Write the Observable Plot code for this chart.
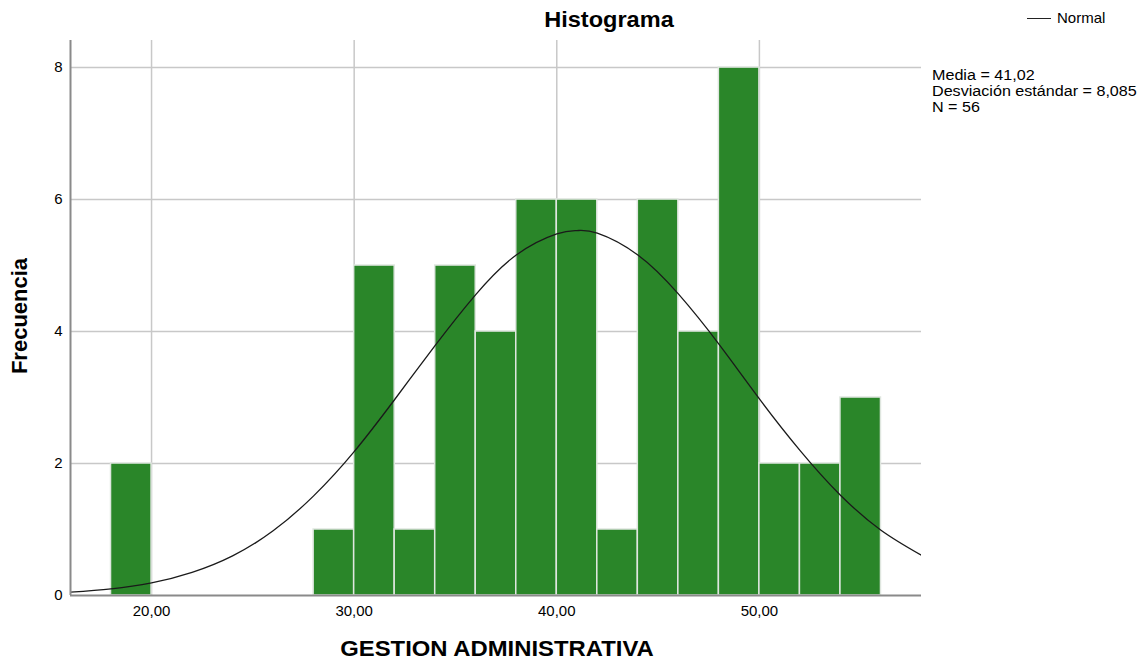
<!DOCTYPE html>
<html>
<head>
<meta charset="utf-8">
<script src="https://cdn.jsdelivr.net/npm/d3@7"></script>
<script src="https://cdn.jsdelivr.net/npm/@observablehq/plot@0.6"></script>
<style>
  html, body { margin: 0; padding: 0; background: #fff; }
  #wrap { position: relative; width: 1145px; height: 661px; font-family: "Liberation Sans", Arial, sans-serif; overflow: hidden; }
  .abs { position: absolute; white-space: nowrap; color: #000; }
</style>
</head>
<body>
<div id="wrap">
  <div class="abs" style="left:0;width:1218px;top:7px;text-align:center;font-size:22px;line-height:26px;font-weight:bold;transform:scaleX(1.07);transform-origin:609px 0;">Histograma</div>
  <div class="abs" style="left:1027px;top:9px;font-size:15px;line-height:18px;display:flex;align-items:center;">
    <span style="display:inline-block;width:24px;height:0;border-top:1.3px solid #222;margin-right:6px;"></span>Normal
  </div>
  <div class="abs" style="left:932px;top:67px;font-size:15.5px;line-height:16px;transform:scaleX(1.04);transform-origin:0 0;">Media = 41,02<br>Desviación estándar = 8,085<br>N = 56</div>
  <div class="abs" style="left:0;width:994px;top:636px;text-align:center;font-size:22.5px;line-height:26px;font-weight:bold;transform:scaleX(1.06);transform-origin:497px 0;">GESTION ADMINISTRATIVA</div>
  <div class="abs" style="left:20px;top:316px;transform:translate(-50%,-50%) rotate(-90deg);font-size:22px;line-height:26px;font-weight:bold;">Frecuencia</div>
</div>
<script>
// Histogram bins (lower edge) and frequencies
const binStarts = [18, 28, 30, 32, 34, 36, 38, 40, 42, 44, 46, 48, 50, 52, 54];
const counts    = [2,  1,  5,  1,  5,  4,  6,  6,  1,  6,  4,  8,  2,  2,  3];
const binWidth = 2;

// Normal curve
const curveX = [16, 18, 20, 22, 24, 26, 28, 30, 32, 34, 36, 38, 40, 41, 42, 44, 46, 48, 50, 52, 54, 56, 58];
const curveY = [0.05, 0.10, 0.19, 0.35, 0.60, 0.98, 1.51, 2.18, 2.97, 3.79, 4.56, 5.16, 5.48, 5.53, 5.49, 5.16, 4.57, 3.81, 2.98, 2.20, 1.52, 0.99, 0.61];

const xTicks = [20, 30, 40, 50];
const yTicks = [0, 2, 4, 6, 8];

const bars = binStarts.map((s, i) => ({x1: s, x2: s + binWidth, y: counts[i]}));
const curve = curveX.map((x, i) => ({x, y: curveY[i]}));

const fmt = d => d.toFixed(2).replace(".", ",");

const chart = Plot.plot({
  width: 1145,
  height: 661,
  marginLeft: 70,
  marginRight: 224,
  marginTop: 40,
  marginBottom: 66,
  style: {fontFamily: "Liberation Sans, Arial, sans-serif", fontSize: "15px", color: "#000", background: "transparent"},
  x: {domain: [16, 58], ticks: xTicks, tickFormat: fmt, tickSize: 0, tickPadding: 10, label: null},
  y: {domain: [0, 8.41], ticks: yTicks, tickSize: 0, tickPadding: 8, label: null},
  marks: [
    Plot.ruleX(xTicks, {stroke: "#c8c8c8", strokeWidth: 1.5}),
    Plot.ruleY(yTicks.filter(d => d > 0), {stroke: "#c8c8c8", strokeWidth: 1.5}),
    Plot.rectY(bars, {x1: "x1", x2: "x2", y: "y", fill: "#2a8629", stroke: "#dfe6df", strokeWidth: 1.5}),
    Plot.line(curve, {x: "x", y: "y", curve: "natural", stroke: "#1a1a1a", strokeWidth: 1.3, clip: true}),
    Plot.ruleX([16], {stroke: "#8a8a8a", strokeWidth: 2}),
    Plot.ruleY([0], {stroke: "#8a8a8a", strokeWidth: 2})
  ]
});
document.getElementById("wrap").prepend(chart);
chart.style.position = "absolute";
chart.style.left = "0";
chart.style.top = "0";
</script>
</body>
</html>
